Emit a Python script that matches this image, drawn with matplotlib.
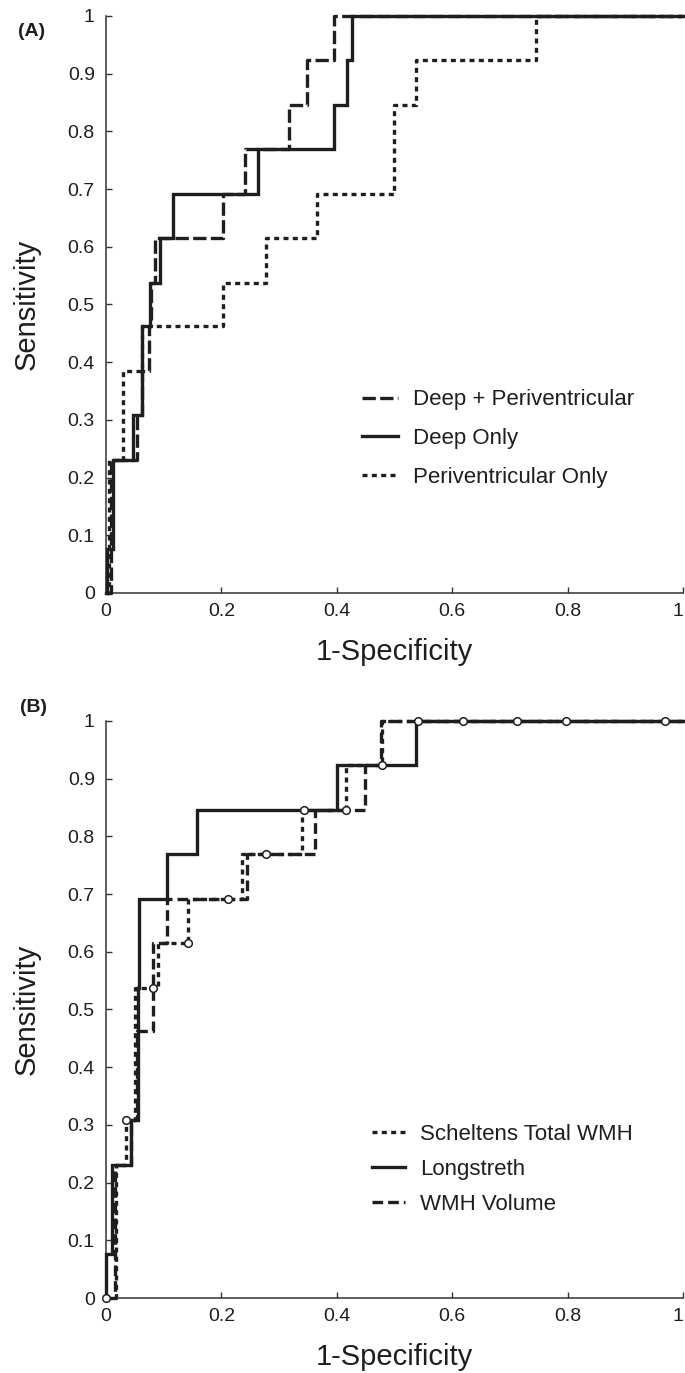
import matplotlib
matplotlib.use("Agg")
import matplotlib.pyplot as plt

plt.rcParams['font.family'] = ['Liberation Sans', 'DejaVu Sans']

# ---- Panel A: ROC points (1-specificity, sensitivity)
deep_peri_fpr = [0, 0.008, 0.054, 0.063, 0.074, 0.078, 0.085, 0.203, 0.241, 0.318, 0.348, 0.396, 1.0]
deep_peri_tpr = [0, 0.231, 0.308, 0.385, 0.462, 0.538, 0.615, 0.692, 0.769, 0.846, 0.923, 1.0, 1.0]

deep_only_fpr = [0, 0.001, 0.013, 0.046, 0.063, 0.076, 0.094, 0.117, 0.264, 0.396, 0.418, 0.426, 1.0]
deep_only_tpr = [0, 0.077, 0.231, 0.308, 0.462, 0.538, 0.615, 0.692, 0.769, 0.846, 0.923, 1.0, 1.0]

peri_only_fpr = [0, 0.005, 0.030, 0.063, 0.203, 0.278, 0.365, 0.500, 0.537, 0.745, 1.0]
peri_only_tpr = [0, 0.231, 0.385, 0.462, 0.538, 0.615, 0.692, 0.846, 0.923, 1.0, 1.0]

# ---- Panel B
scheltens_fpr = [0, 0.017, 0.035, 0.050, 0.082, 0.090, 0.143, 0.143, 0.212, 0.235, 0.277, 0.339,
                 0.416, 0.416, 0.478, 0.478, 1.0]
scheltens_tpr = [0, 0.231, 0.308, 0.538, 0.538, 0.615, 0.615, 0.692, 0.692, 0.769, 0.769, 0.846,
                 0.846, 0.923, 0.923, 1.0, 1.0]
# threshold points marked on the Scheltens curve
scheltens_pts_fpr = [0, 0.035, 0.082, 0.143, 0.212, 0.277, 0.343, 0.416, 0.478, 0.541, 0.618, 0.712, 0.797, 0.969]
scheltens_pts_tpr = [0, 0.308, 0.538, 0.615, 0.692, 0.769, 0.846, 0.846, 0.923, 1.0, 1.0, 1.0, 1.0, 1.0]

longstreth_fpr = [0, 0, 0.010, 0.043, 0.055, 0.058, 0.105, 0.158, 0.400, 0.537, 1.0]
longstreth_tpr = [0, 0.077, 0.231, 0.308, 0.538, 0.692, 0.769, 0.846, 0.923, 1.0, 1.0]

wmh_vol_fpr = [0, 0.016, 0.043, 0.054, 0.082, 0.105, 0.244, 0.362, 0.449, 0.476, 1.0]
wmh_vol_tpr = [0, 0.231, 0.308, 0.462, 0.615, 0.692, 0.769, 0.846, 0.923, 1.0, 1.0]

x_ticks = [0, 0.2, 0.4, 0.6, 0.8, 1.0]
x_tick_labels = ["0", "0.2", "0.4", "0.6", "0.8", "1"]
y_ticks = [0, 0.1, 0.2, 0.3, 0.4, 0.5, 0.6, 0.7, 0.8, 0.9, 1.0]
y_tick_labels = ["0", "0.1", "0.2", "0.3", "0.4", "0.5", "0.6", "0.7", "0.8", "0.9", "1"]

INK = "#1e1e1e"
LW = 2.4
DASH_LONG = (0, (4.0, 1.3))
DASH_MED = (0, (3.2, 1.5))
DOTTED = (0, (1.5, 1.3))


def style_axes(ax):
    ax.set_xlim(0, 1)
    ax.set_ylim(0, 1)
    for side in ["top", "right"]:
        ax.spines[side].set_visible(False)
    for side in ["left", "bottom"]:
        ax.spines[side].set_linewidth(1.1)
        ax.spines[side].set_color("#333333")
    ax.set_xticks(x_ticks)
    ax.set_xticklabels(x_tick_labels)
    ax.set_yticks(y_ticks)
    ax.set_yticklabels(y_tick_labels)
    ax.tick_params(direction="in", length=4.5, width=1, colors="#333333",
                   labelsize=14, labelcolor=INK)
    ax.tick_params(axis="x", pad=7)
    ax.tick_params(axis="y", pad=8)
    # last x label sits at the figure edge, keep it inside
    ax.get_xticklabels()[-1].set_horizontalalignment("right")
    ax.set_xlabel("1-Specificity", fontsize=21, color=INK)
    ax.set_ylabel("Sensitivity", fontsize=21, color=INK)
    ax.xaxis.set_label_coords(0.5, -0.078)
    ax.yaxis.set_label_coords(-0.113, 0.5)


def roc_step(ax, fpr, tpr, style, label=None, z=2):
    ax.step(fpr, tpr, where="post", color=INK, lw=LW, linestyle=style,
            label=label, clip_on=False, zorder=z, solid_joinstyle="miter")


fig = plt.figure(figsize=(6.85, 13.73), dpi=100)
ax_a = fig.add_axes([0.1547, 0.5681, 0.8423, 0.4203])
ax_b = fig.add_axes([0.1547, 0.0546, 0.8423, 0.4203])

# (A) deep vs periventricular
roc_step(ax_a, deep_peri_fpr, deep_peri_tpr, DASH_LONG, "Deep + Periventricular", z=3)
roc_step(ax_a, deep_only_fpr, deep_only_tpr, "-", "Deep Only", z=4)
roc_step(ax_a, peri_only_fpr, peri_only_tpr, DOTTED, "Periventricular Only", z=2)
style_axes(ax_a)
ax_a.legend(loc="upper left", bbox_to_anchor=(0.444, 0.353), frameon=False,
            fontsize=16, handlelength=1.6, handletextpad=0.68, labelspacing=0.8,
            borderpad=0, borderaxespad=0, labelcolor=INK)

# (B) rating scales vs volume
roc_step(ax_b, scheltens_fpr, scheltens_tpr, DOTTED, "Scheltens Total WMH", z=2)
roc_step(ax_b, longstreth_fpr, longstreth_tpr, "-", "Longstreth", z=4)
roc_step(ax_b, wmh_vol_fpr, wmh_vol_tpr, DASH_MED, "WMH Volume", z=3)
ax_b.plot(scheltens_pts_fpr, scheltens_pts_tpr, linestyle="none", marker="o", markersize=5.5,
          markerfacecolor="white", markeredgecolor=INK, markeredgewidth=1.1,
          clip_on=False, zorder=5)
style_axes(ax_b)
ax_b.legend(loc="upper left", bbox_to_anchor=(0.461, 0.302), frameon=False,
            fontsize=16, handlelength=1.5, handletextpad=0.68, labelspacing=0.63,
            borderpad=0, borderaxespad=0, labelcolor=INK)

fig.text(18 / 685, 1 - 31 / 1373, "(A)", fontsize=14, fontweight="bold", color=INK, va="center")
fig.text(20 / 685, 1 - 707 / 1373, "(B)", fontsize=14, fontweight="bold", color=INK, va="center")

fig.savefig("out.png", dpi=100)
